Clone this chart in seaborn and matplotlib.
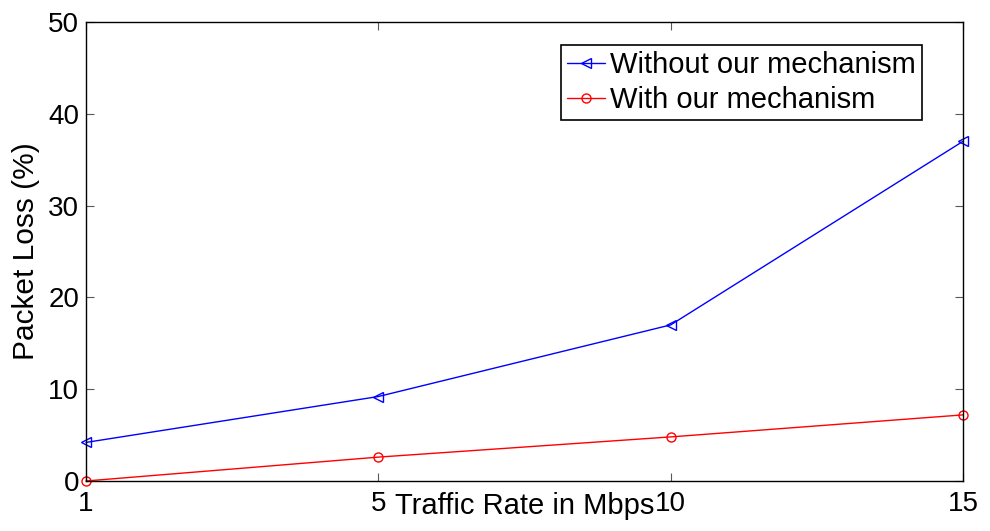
import matplotlib
matplotlib.use("Agg")
import matplotlib.pyplot as plt
import seaborn as sns
import pandas as pd

# Traffic rates (categorical, evenly spaced on the axis)
rates = ["1", "5", "10", "15"]
loss_without = [4.2, 9.2, 17.0, 37.0]
loss_with = [0.0, 2.6, 4.8, 7.2]
y_ticks = [0, 10, 20, 30, 40, 50]

sns.set_style("white")
plt.rcParams["font.family"] = ["Liberation Sans", "DejaVu Sans"]
plt.rcParams["text.color"] = "black"
plt.rcParams["axes.labelcolor"] = "black"
plt.rcParams["xtick.color"] = "black"
plt.rcParams["ytick.color"] = "black"

df_without = pd.DataFrame({"rate": rates, "loss": loss_without})
df_with = pd.DataFrame({"rate": rates, "loss": loss_with})

fig, ax = plt.subplots(figsize=(9.9, 5.31), dpi=100)
fig.subplots_adjust(left=0.0869, right=0.9727, top=0.9586, bottom=0.0942)

sns.lineplot(data=df_without, x="rate", y="loss", sort=False, ax=ax,
             color="#0000ff", lw=1.0, marker="<", ms=7, mfc="none",
             mec="#0000ff", mew=1.0, label="Without our mechanism",
             clip_on=False)
sns.lineplot(data=df_with, x="rate", y="loss", sort=False, ax=ax,
             color="#ff0000", lw=1.0, marker="o", ms=6.5, mfc="none",
             mec="#ff0000", mew=1.0, label="With our mechanism",
             clip_on=False)

ax.set_xlim(0, len(rates) - 1)
ax.set_ylim(0, 50)
ax.set_yticks(y_ticks)
ax.set_yticklabels([str(v) for v in y_ticks])

for s in ax.spines.values():
    s.set_visible(True)
    s.set_color("black")
    s.set_linewidth(1.0)

ax.tick_params(axis="both", which="both", direction="in", length=6,
               width=0.8, color="0.35", labelcolor="black", labelsize=20,
               top=True, right=True, bottom=True, left=True, pad=5)
ax.tick_params(axis="x", pad=7)

ax.set_xlabel("Traffic Rate in Mbps", fontsize=21)
ax.xaxis.set_label_coords(0.5, -0.025, transform=ax.transAxes)
ax.xaxis.label.set_va("top")
ax.set_ylabel("Packet Loss (%)", fontsize=21.5, labelpad=6)

leg = ax.legend(loc="upper right", bbox_to_anchor=(0.953, 0.950),
                borderaxespad=0, fontsize=21, frameon=True, fancybox=False,
                edgecolor="black", handlelength=1.3, handletextpad=0.15,
                borderpad=0.22, labelspacing=0.22)
leg.get_frame().set_linewidth(1.2)
leg.get_frame().set_alpha(1)
for t in leg.get_texts():
    t.set_color("black")

fig.savefig("out.png", dpi=100)
